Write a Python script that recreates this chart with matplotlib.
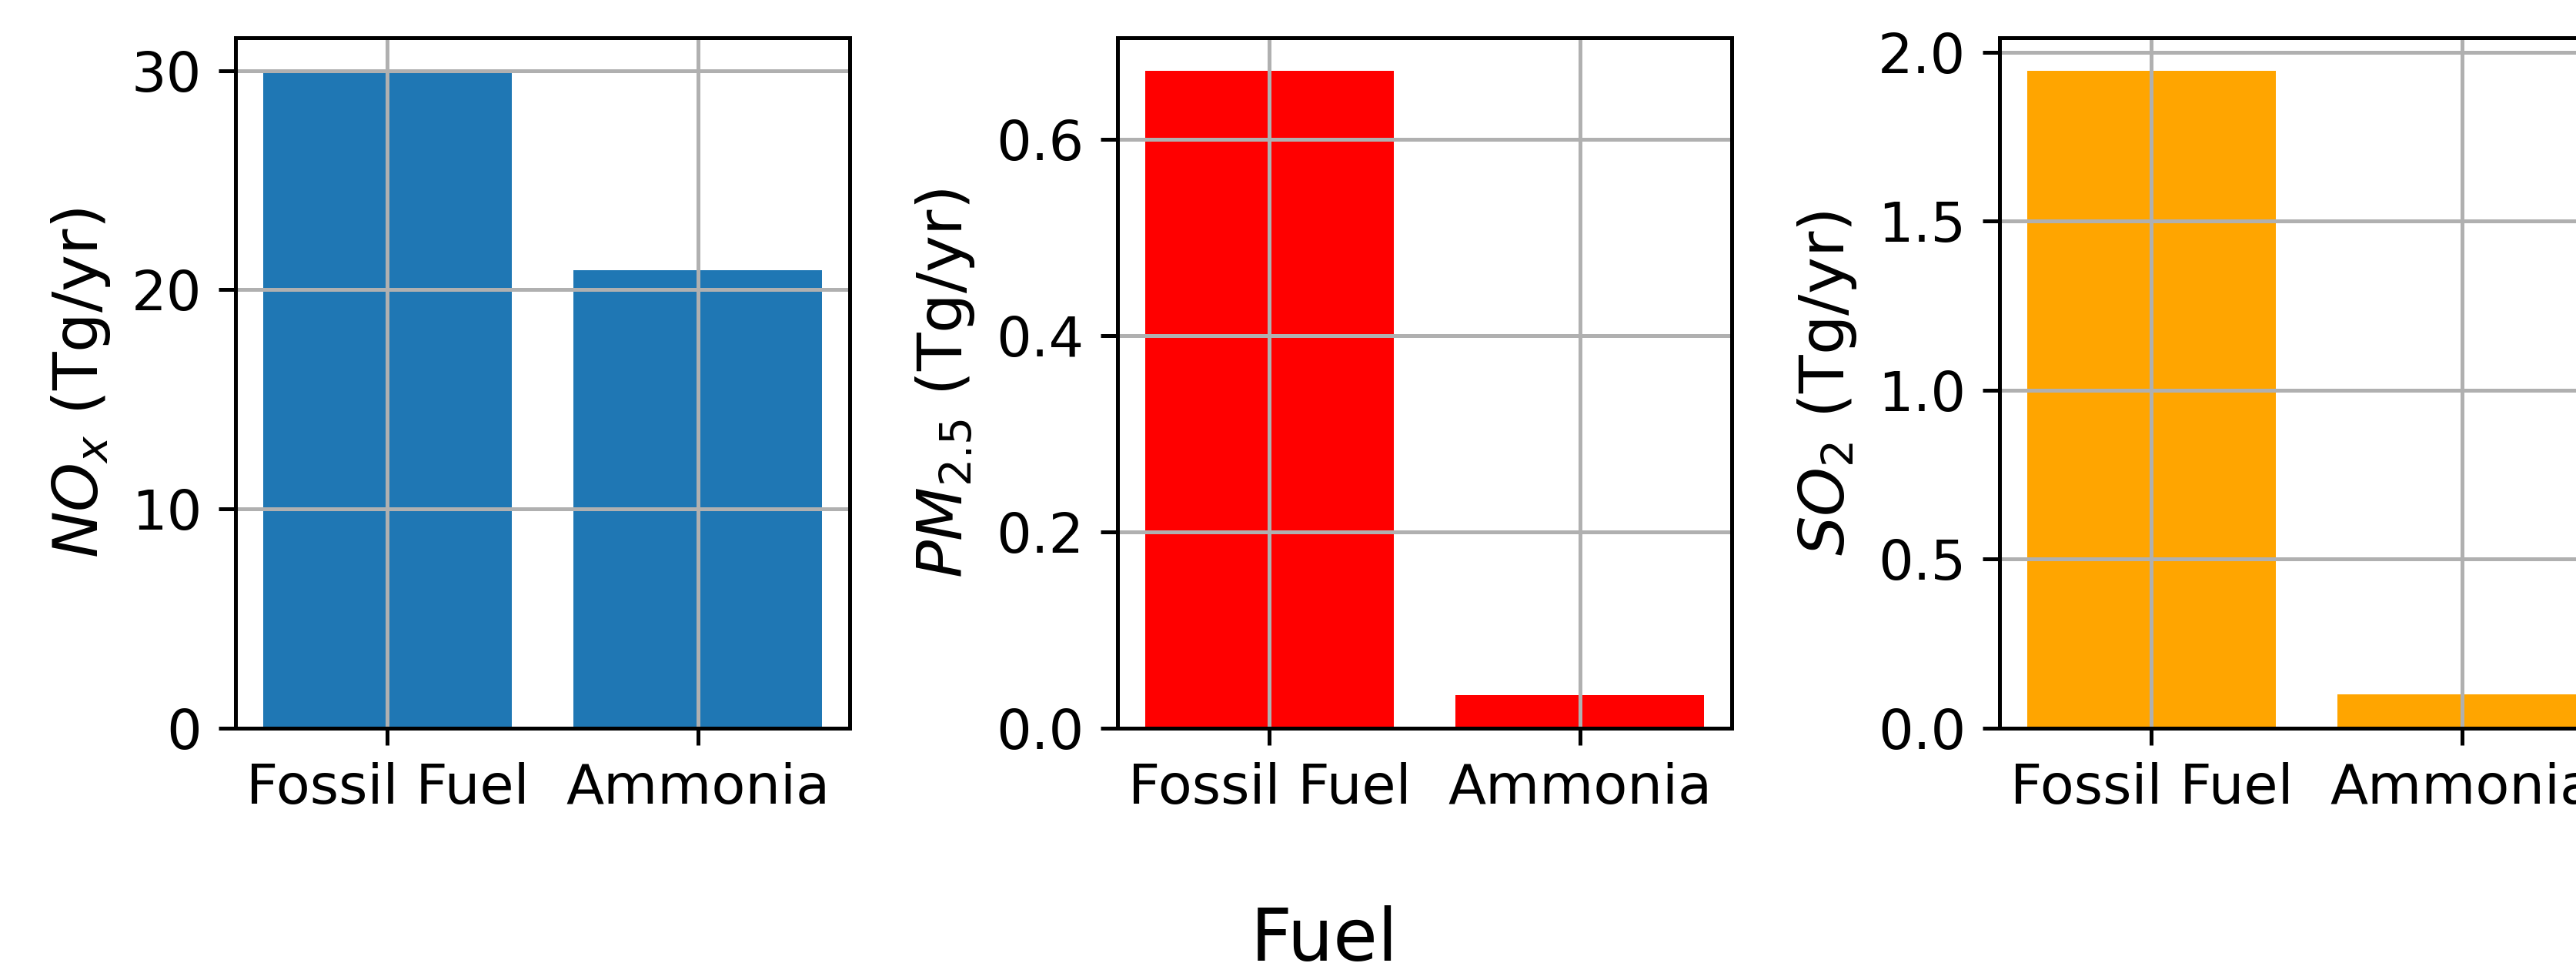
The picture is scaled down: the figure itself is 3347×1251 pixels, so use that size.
"""Annual emissions by fuel type: NOx, PM2.5 and SO2 bar panels."""
import matplotlib
matplotlib.use("Agg")
import matplotlib.pyplot as plt

fuels = ["Fossil Fuel", "Ammonia"]
nox = [30.0, 20.9]
pm25 = [0.670, 0.034]
so2 = [1.945, 0.10]

panels = [
    (nox, "#1f77b4", r"$NO_x$ (Tg/yr)"),
    (pm25, "red", r"$PM_{2.5}$ (Tg/yr)"),
    (so2, "orange", r"$SO_2$ (Tg/yr)"),
]

W, H, DPI = 3347, 1251, 450
fig = plt.figure(figsize=(W / DPI, H / DPI), dpi=DPI)

# axes placed in pixels; the third panel runs past the right edge as in the source
lefts = [306, 1452, 2598]
ax_w, ax_h, ax_bottom = 798, 897, 1251 - 946

for left, (vals, color, label) in zip(lefts, panels):
    ax = fig.add_axes([left / W, ax_bottom / H, ax_w / W, ax_h / H])
    ax.bar(fuels, vals, color=color)
    ax.set_ylabel(label, fontsize=13)
    ax.tick_params(labelsize=11.5)
    ax.grid(True)

fig.text(1721 / W, (H - 1176) / H, "Fuel", fontsize=15, ha="center", va="top")

fig.savefig("out.png", dpi=DPI)
